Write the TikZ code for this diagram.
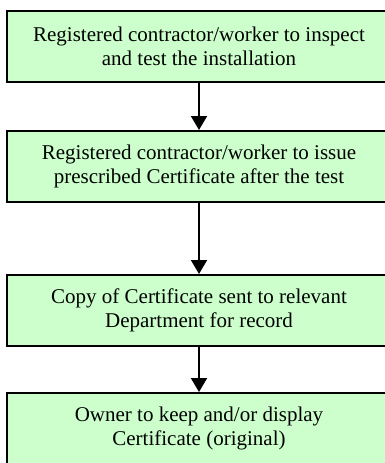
\documentclass[tikz,border=0pt]{standalone}
\usepackage{fontspec}
\setmainfont{Liberation Serif}
\usetikzlibrary{arrows.meta}
\definecolor{boxgreen}{RGB}{204,255,204}
\tikzset{
  stepbox/.style={draw=black, line width=2pt, fill=boxgreen, minimum width=384pt,
    minimum height=71pt, inner sep=0pt, align=center,
    font=\fontsize{21pt}{24.3pt}\selectfont},
  flow/.style={line width=2pt, -{Triangle[length=14pt,width=16pt]}}
}
\begin{document}
\begin{tikzpicture}[x=1pt,y=-1pt]
\useasboundingbox (0,0) rectangle (385,463);
\clip (0,0) rectangle (385,463);
\node[stepbox] (b1) at (199,46.5) {Registered contractor/worker to inspect\\and test the installation};
\node[stepbox] (b2) at (199,166.5) {Registered contractor/worker to issue\\prescribed Certificate after the test};
\node[stepbox] (b3) at (199,310.5) {Copy of Certificate sent to relevant\\Department for record};
\node[stepbox] (b4) at (199,428.5) {Owner to keep and/or display\\Certificate (original)};
\draw[flow] (b1.south) -- (b2.north);
\draw[flow] (b2.south) -- (b3.north);
\draw[flow] (b3.south) -- (b4.north);
\end{tikzpicture}
\end{document}
